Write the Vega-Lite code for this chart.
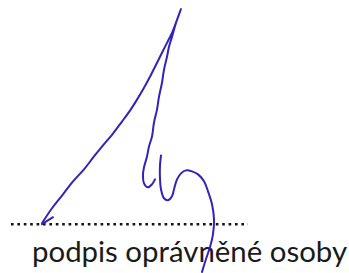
{
  "$schema": "https://vega.github.io/schema/vega-lite/v6.json",
  "width": 349,
  "height": 273,
  "autosize": {"type": "fit", "contains": "padding"},
  "padding": 0,
  "background": "white",
  "config": {"view": {"stroke": null}},
  "datasets": {
    "sig": [
      {"s": 1, "i": 1, "x": 42, "y": 224}, {"s": 1, "i": 2, "x": 52, "y": 209}, {"s": 1, "i": 3, "x": 63, "y": 195},
      {"s": 1, "i": 4, "x": 73, "y": 182}, {"s": 1, "i": 5, "x": 84, "y": 170}, {"s": 1, "i": 6, "x": 94, "y": 157},
      {"s": 1, "i": 7, "x": 103, "y": 146}, {"s": 1, "i": 8, "x": 113, "y": 134}, {"s": 1, "i": 9, "x": 122, "y": 122},
      {"s": 1, "i": 10, "x": 130, "y": 111}, {"s": 1, "i": 11, "x": 137, "y": 100}, {"s": 1, "i": 12, "x": 144, "y": 88},
      {"s": 1, "i": 13, "x": 150, "y": 77}, {"s": 1, "i": 14, "x": 156, "y": 65}, {"s": 1, "i": 15, "x": 162, "y": 53},
      {"s": 1, "i": 16, "x": 167, "y": 43}, {"s": 1, "i": 17, "x": 172, "y": 33}, {"s": 1, "i": 18, "x": 177, "y": 20},
      {"s": 1, "i": 19, "x": 181, "y": 9},
      {"s": 1, "i": 20, "x": 176, "y": 23}, {"s": 1, "i": 21, "x": 172, "y": 37}, {"s": 1, "i": 22, "x": 169, "y": 47},
      {"s": 1, "i": 23, "x": 167, "y": 57}, {"s": 1, "i": 24, "x": 164, "y": 70}, {"s": 1, "i": 25, "x": 162, "y": 83},
      {"s": 1, "i": 26, "x": 159, "y": 97}, {"s": 1, "i": 27, "x": 157, "y": 110}, {"s": 1, "i": 28, "x": 154, "y": 123},
      {"s": 1, "i": 29, "x": 152, "y": 137}, {"s": 1, "i": 30, "x": 149, "y": 147}, {"s": 1, "i": 31, "x": 147, "y": 157},
      {"s": 1, "i": 32, "x": 144, "y": 168}, {"s": 1, "i": 33, "x": 143, "y": 175}, {"s": 1, "i": 34, "x": 144, "y": 184},
      {"s": 1, "i": 35, "x": 148, "y": 188}, {"s": 1, "i": 36, "x": 152, "y": 185}, {"s": 1, "i": 37, "x": 155, "y": 180},
      {"s": 2, "i": 1, "x": 161, "y": 156}, {"s": 2, "i": 2, "x": 160, "y": 166}, {"s": 2, "i": 3, "x": 160, "y": 179},
      {"s": 2, "i": 4, "x": 161, "y": 190}, {"s": 2, "i": 5, "x": 164, "y": 199}, {"s": 2, "i": 6, "x": 168, "y": 201},
      {"s": 2, "i": 7, "x": 172, "y": 197}, {"s": 2, "i": 8, "x": 174, "y": 190}, {"s": 2, "i": 9, "x": 177, "y": 180},
      {"s": 2, "i": 10, "x": 181, "y": 174}, {"s": 2, "i": 11, "x": 186, "y": 171}, {"s": 2, "i": 12, "x": 192, "y": 172},
      {"s": 2, "i": 13, "x": 198, "y": 175}, {"s": 2, "i": 14, "x": 204, "y": 182}, {"s": 2, "i": 15, "x": 208, "y": 192},
      {"s": 2, "i": 16, "x": 212, "y": 205}, {"s": 2, "i": 17, "x": 214, "y": 220}, {"s": 2, "i": 18, "x": 213, "y": 235},
      {"s": 2, "i": 19, "x": 210, "y": 248}, {"s": 2, "i": 20, "x": 206, "y": 260}, {"s": 2, "i": 21, "x": 202, "y": 273},
      {"s": 3, "i": 1, "x": 42, "y": 225}, {"s": 3, "i": 2, "x": 53, "y": 218}
    ]
  },
  "layer": [
    {
      "data": {"values": [{"x": 11, "x2": 248, "y": 225}]},
      "mark": {"type": "rule", "color": "#111111", "strokeWidth": 2.6, "strokeDash": [2.6, 3.8]},
      "encoding": {
        "x": {"field": "x", "type": "quantitative", "scale": {"domain": [0, 349], "nice": false, "zero": false}, "axis": null},
        "x2": {"field": "x2"},
        "y": {"field": "y", "type": "quantitative", "scale": {"domain": [0, 273], "nice": false, "zero": false, "reverse": true}, "axis": null}
      }
    },
    {
      "data": {"values": [{"label": "podpis oprávněné osoby", "x": 32, "y": 263}]},
      "mark": {"type": "text", "align": "left", "baseline": "alphabetic", "font": "Lato", "fontSize": 29.4, "color": "#1a1a1a"},
      "encoding": {
        "x": {"field": "x", "type": "quantitative"},
        "y": {"field": "y", "type": "quantitative"},
        "text": {"field": "label"}
      }
    },
    {
      "data": {"name": "sig"},
      "mark": {"type": "line", "color": "#3322bb", "strokeWidth": 2, "interpolate": "catmull-rom", "strokeCap": "round", "strokeJoin": "round"},
      "encoding": {
        "x": {"field": "x", "type": "quantitative"},
        "y": {"field": "y", "type": "quantitative"},
        "detail": {"field": "s"},
        "order": {"field": "i", "type": "quantitative"}
      }
    }
  ]
}
